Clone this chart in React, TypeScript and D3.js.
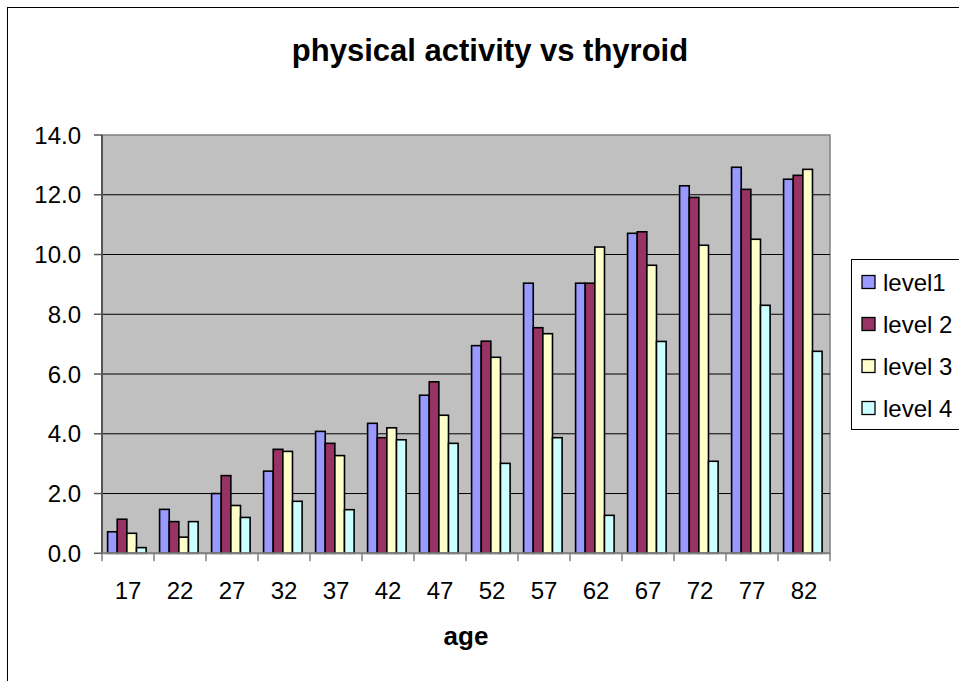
import React from "react";
import * as d3 from "d3";

const categories = ["17", "22", "27", "32", "37", "42", "47", "52", "57", "62", "67", "72", "77", "82"];
const seriesNames = ["level1", "level 2", "level 3", "level 4"];
const level1 = [0.72, 1.47, 2.0, 2.75, 4.08, 4.35, 5.29, 6.95, 9.04, 9.04, 10.71, 12.3, 12.92, 12.52];
const level2 = [1.14, 1.06, 2.6, 3.48, 3.68, 3.87, 5.74, 7.1, 7.55, 9.04, 10.76, 11.91, 12.18, 12.65];
const level3 = [0.67, 0.54, 1.6, 3.41, 3.27, 4.2, 4.62, 6.56, 7.35, 10.25, 9.64, 10.31, 10.51, 12.85];
const level4 = [0.19, 1.06, 1.2, 1.74, 1.46, 3.8, 3.68, 3.01, 3.87, 1.27, 7.09, 3.08, 8.3, 6.76];
const yTicks = [0, 2, 4, 6, 8, 10, 12, 14];
const colors = ["#9999FF", "#993366", "#FFFFCC", "#CCFFFF"];
const title = "physical activity vs thyroid";
const xTitle = "age";

const FONT = "'Liberation Sans', Arial, sans-serif";

export default function App() {
  const W = 959, H = 681;
  const left = 102, right = 830, top = 135, bottom = 553.3;
  const x = d3.scaleBand<string>().domain(categories).range([left, right]).padding(0);
  const y = d3.scaleLinear().domain([0, 14]).range([bottom, top]);
  const series = [level1, level2, level3, level4];
  const bw = x.bandwidth();
  const barW = bw / 5.4;
  const offset = 5.6;
  const tickBounds = d3.range(categories.length + 1).map((i) => left + i * bw);

  return (
    <svg width={W} height={H} style={{ position: "absolute", left: 0, top: 0 }} fontFamily={FONT}>
      <rect x={0} y={0} width={W} height={H} fill="#fff" />
      <rect x={7.5} y={7.5} width={W + 20} height={H + 20} fill="none" stroke="#000" strokeWidth={1} />
      <text x={490} y={61} textAnchor="middle" fontSize={31} fontWeight="bold" fill="#000">{title}</text>
      <rect x={left} y={top} width={right - left} height={bottom - top} fill="#C0C0C0" stroke="#808080" strokeWidth={1.5} />
      {yTicks.filter((t) => t > 0 && t < 14).map((t) => (
        <line key={"g" + t} x1={left} x2={right} y1={y(t)} y2={y(t)} stroke="#000" strokeWidth={1} />
      ))}
      {series.map((vals, si) =>
        vals.map((v, ci) => (
          <rect
            key={si + "-" + ci}
            x={(x(categories[ci]) as number) + offset + si * barW}
            y={y(v)}
            width={barW}
            height={y(0) - y(v)}
            fill={colors[si]}
            stroke="#000"
            strokeWidth={1.6}
          />
        ))
      )}
      <line x1={left} x2={left} y1={top} y2={bottom} stroke="#555" strokeWidth={2} />
      <line x1={left} x2={right} y1={bottom} y2={bottom} stroke="#808080" strokeWidth={2} />
      {yTicks.map((t) => (
        <g key={"y" + t}>
          <line x1={left - 8} x2={left} y1={y(t)} y2={y(t)} stroke="#555" strokeWidth={1.5} />
          <text x={81} y={y(t)} dy="0.36em" textAnchor="end" fontSize={24} fill="#000">{t.toFixed(1)}</text>
        </g>
      ))}
      {tickBounds.map((tx, i) => (
        <line key={"xt" + i} x1={tx} x2={tx} y1={bottom} y2={bottom + 8} stroke="#808080" strokeWidth={1.5} />
      ))}
      {categories.map((c) => (
        <text key={"xl" + c} x={(x(c) as number) + bw / 2} y={599} textAnchor="middle" fontSize={24} fill="#000">{c}</text>
      ))}
      <text x={(left + right) / 2} y={645} textAnchor="middle" fontSize={26} fontWeight="bold" fill="#000">{xTitle}</text>
      <rect x={851.5} y={259.5} width={130} height={170} fill="#fff" stroke="#000" strokeWidth={1} />
      {seriesNames.map((n, i) => {
        const cy = 282 + i * 42;
        return (
          <g key={n}>
            <rect x={862} y={cy - 6.5} width={13} height={13} fill={colors[i]} stroke="#000" strokeWidth={1.3} />
            <text x={883} y={cy} dy="0.36em" fontSize={24} fill="#000">{n}</text>
          </g>
        );
      })}
    </svg>
  );
}
